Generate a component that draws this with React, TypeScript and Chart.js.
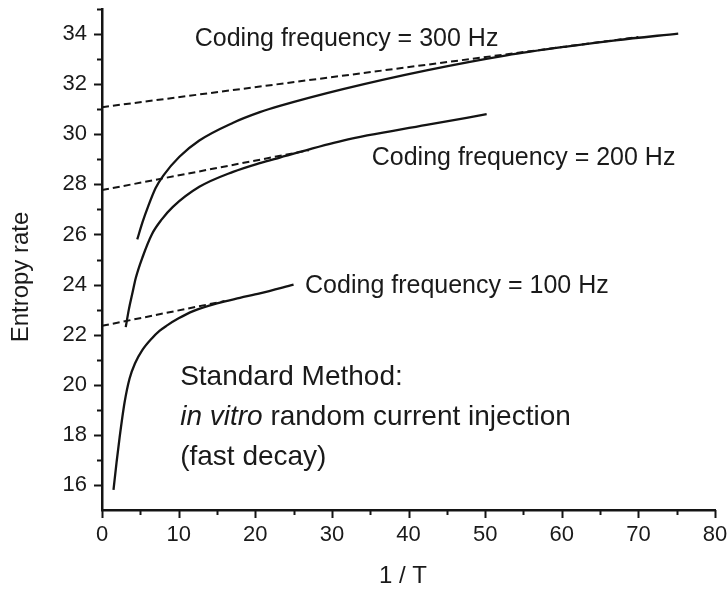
import React, { useEffect, useRef } from "react";
import { Chart, registerables } from "chart.js";

Chart.register(...registerables);

// ---- data ----
const x300 = [4.6, 5.3, 6.0, 7.0, 8.0, 10.1, 12.7, 17.05, 20.6, 23.2, 31.45, 42.35, 52.8, 60.6, 67, 75.2];
const y300 = [25.8, 26.5, 27.1, 27.85, 28.35, 29.1, 29.75, 30.45, 30.88, 31.13, 31.8, 32.55, 33.15, 33.5, 33.75, 34.02];

const x200 = [3.1, 3.5, 4.0, 4.4, 5.3, 6.5, 7.8, 9.25, 12.7, 17.1, 20.6, 23.2, 31.45, 42.35, 50.2];
const y200 = [22.3, 23.0, 23.7, 24.25, 25.1, 26.0, 26.6, 27.1, 27.9, 28.5, 28.85, 29.07, 29.75, 30.37, 30.8];

const x100 = [1.5, 1.9, 2.3, 2.95, 3.6, 4.3, 5.3, 6.5, 7.5, 8.4, 10, 11.9, 15, 18, 20.6, 25];
const y100 = [15.8, 16.9, 17.9, 19.3, 20.25, 20.85, 21.4, 21.85, 22.15, 22.35, 22.65, 22.94, 23.25, 23.47, 23.65, 24.0];

// asymptotic linear fits (dashed)
const fitX300 = [0, 70];
const fitY300 = [31.08, 33.88];
const fitX200 = [0, 27];
const fitY200 = [27.77, 29.36];
const fitX100 = [0, 16];
const fitY100 = [22.35, 23.34];

// axis
const X_MIN = 0, X_MAX = 80, X_STEP = 5, X_LABEL_EVERY = 10;
const Y_MIN = 15, Y_MAX = 35, Y_STEP = 1, Y_LABEL_EVERY = 2;
const X_TITLE = "1 / T";
const Y_TITLE = "Entropy rate";

// annotation texts
const curveLabels = ["Coding frequency = 300 Hz", "Coding frequency = 200 Hz", "Coding frequency = 100 Hz"];
const curveLabelX = [12.1, 35.2, 26.5];
const curveLabelY = [33.52, 28.77, 23.65];

const methodTitle = "Standard Method:";
const methodItalic = "in vitro";
const methodRest = " random current injection";
const methodLast = "(fast decay)";
const methodX = 10.2;
const methodY = [19.99, 18.39, 16.8];

const FONT = '"Liberation Sans", Arial, Helvetica, sans-serif';
const TEXT = "#1a1a1a";
const INK = "#141414";

const toPts = (xs: number[], ys: number[]) => xs.map((v, i) => ({ x: v, y: ys[i] }));

const decor = {
  id: "decor",
  afterDraw(chart: any) {
    const { ctx, chartArea } = chart;
    const xs = chart.scales.x;
    const ys = chart.scales.y;
    ctx.save();
    ctx.strokeStyle = INK;
    ctx.lineWidth = 2;
    // tick marks
    xs.ticks.forEach((t: any) => {
      const px = Math.round(xs.getPixelForValue(t.value)) + 0.5;
      const major = Math.abs(t.value % X_LABEL_EVERY) < 1e-9;
      ctx.beginPath();
      ctx.moveTo(px, chartArea.bottom);
      ctx.lineTo(px, chartArea.bottom + (major ? 8 : 5));
      ctx.stroke();
    });
    ys.ticks.forEach((t: any) => {
      const py = Math.round(ys.getPixelForValue(t.value)) + 0.5;
      const major = Math.abs(t.value % Y_LABEL_EVERY) < 1e-9;
      if (t.value === Y_MIN) return;
      ctx.beginPath();
      ctx.moveTo(chartArea.left, py);
      ctx.lineTo(chartArea.left - (major ? 8 : 5), py);
      ctx.stroke();
    });

    ctx.fillStyle = TEXT;
    // axis titles
    ctx.font = `24px ${FONT}`;
    ctx.textAlign = "center";
    ctx.textBaseline = "middle";
    ctx.fillText(X_TITLE, 403, 576);
    ctx.save();
    ctx.translate(21, 277);
    ctx.rotate(-Math.PI / 2);
    ctx.fillText(Y_TITLE, 0, 0);
    ctx.restore();

    // curve labels
    ctx.textAlign = "left";
    ctx.textBaseline = "alphabetic";
    ctx.font = `25px ${FONT}`;
    curveLabels.forEach((s, i) => {
      ctx.fillText(s, xs.getPixelForValue(curveLabelX[i]), ys.getPixelForValue(curveLabelY[i]));
    });

    // method text
    const mx = xs.getPixelForValue(methodX);
    ctx.font = `28px ${FONT}`;
    ctx.fillText(methodTitle, mx, ys.getPixelForValue(methodY[0]));
    ctx.font = `italic 28px ${FONT}`;
    const w = ctx.measureText(methodItalic).width;
    ctx.fillText(methodItalic, mx, ys.getPixelForValue(methodY[1]));
    ctx.font = `28px ${FONT}`;
    ctx.fillText(methodRest, mx + w, ys.getPixelForValue(methodY[1]));
    ctx.fillText(methodLast, mx, ys.getPixelForValue(methodY[2]));
    ctx.restore();
  },
};

export default function App() {
  const ref = useRef<HTMLCanvasElement | null>(null);

  useEffect(() => {
    if (!ref.current) return;
    const solid = (xs: number[], ys: number[]) => ({
      data: toPts(xs, ys),
      showLine: true,
      borderColor: INK,
      borderWidth: 2.3,
      pointRadius: 0,
      cubicInterpolationMode: "monotone" as const,
      fill: false,
    });
    const dashed = (xs: number[], ys: number[]) => ({
      data: toPts(xs, ys),
      showLine: true,
      borderColor: INK,
      borderWidth: 2,
      borderDash: [7, 4],
      pointRadius: 0,
      fill: false,
    });
    const chart = new Chart(ref.current, {
      type: "scatter",
      data: {
        datasets: [
          dashed(fitX300, fitY300),
          dashed(fitX200, fitY200),
          dashed(fitX100, fitY100),
          solid(x300, y300),
          solid(x200, y200),
          solid(x100, y100),
        ],
      },
      options: {
        responsive: false,
        animation: false,
        layout: { padding: { top: 9, right: 13, bottom: 0, left: 0 } },
        plugins: { legend: { display: false }, tooltip: { enabled: false } },
        scales: {
          x: {
            type: "linear",
            min: X_MIN,
            max: X_MAX,
            afterFit: (s: any) => {
              s.height = 80;
              s.paddingLeft = 0;
              s.paddingRight = 0;
            },
            ticks: {
              stepSize: X_STEP,
              padding: 12,
              color: TEXT,
              font: { family: FONT, size: 22 },
              maxRotation: 0,
              autoSkip: false,
              callback: (v: any) => (Math.abs(Number(v) % X_LABEL_EVERY) < 1e-9 ? String(v) : ""),
            },
            grid: { display: true, drawOnChartArea: false, drawTicks: false },
            border: { display: true, color: INK, width: 2.5 },
          },
          y: {
            type: "linear",
            min: Y_MIN,
            max: Y_MAX,
            afterFit: (s: any) => {
              s.width = 102;
              s.paddingTop = 0;
              s.paddingBottom = 0;
            },
            ticks: {
              stepSize: Y_STEP,
              padding: 15,
              color: TEXT,
              font: { family: FONT, size: 22 },
              autoSkip: false,
              callback: (v: any) => {
                const n = Number(v);
                return Math.abs(n % Y_LABEL_EVERY) < 1e-9 && n > Y_MIN && n < Y_MAX ? String(v) : "";
              },
            },
            grid: { display: true, drawOnChartArea: false, drawTicks: false },
            border: { display: true, color: INK, width: 2.5 },
          },
        },
      },
      plugins: [decor],
    });
    return () => chart.destroy();
  }, []);

  return (
    <div style={{ position: "absolute", left: 0, top: 0, width: 728, height: 590, background: "#fff" }}>
      <canvas ref={ref} width={728} height={590} style={{ display: "block" }} />
    </div>
  );
}
